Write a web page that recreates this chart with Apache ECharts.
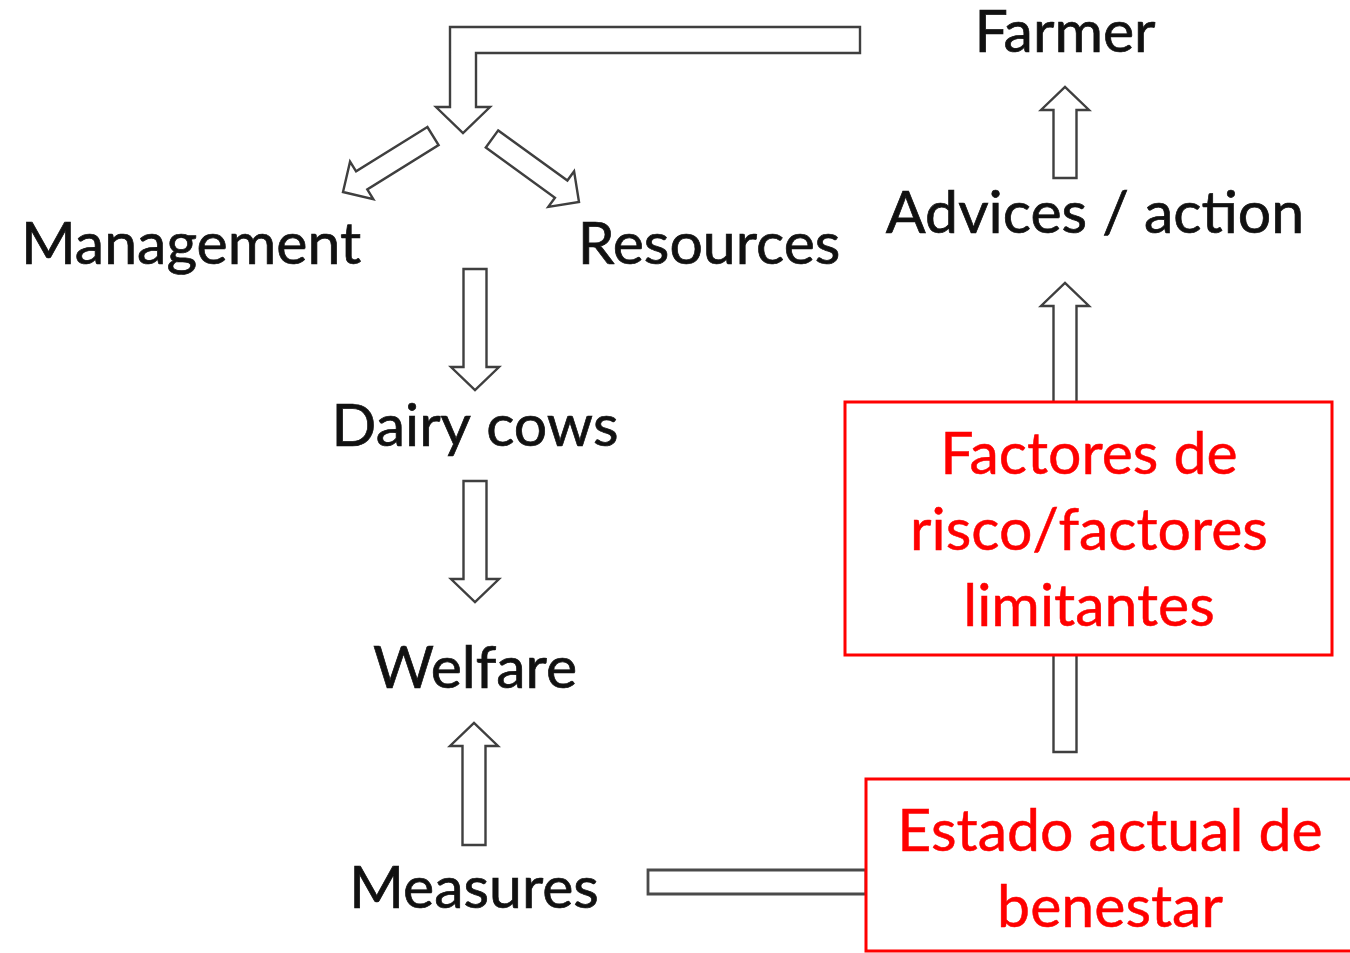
<!DOCTYPE html>
<html><head><meta charset="utf-8">
<script src="https://cdn.jsdelivr.net/npm/echarts@6/dist/echarts.min.js"></script>
<style>html,body{margin:0;padding:0;background:#fff}#c{width:1350px;height:953px}</style>
</head><body><div id="c"></div>
<script>
// ---- data ----
const nodeLabels = ['Farmer', 'Advices / action', 'Management', 'Resources', 'Dairy cows', 'Welfare', 'Measures'];
const nodeX = [1065, 1095, 191, 709, 475, 475, 474];
const nodeBaseline = [52, 233, 264, 264, 446, 688, 908];

const boxLines = [['Factores de', 'risco/factores', 'limitantes'], ['Estado actual de', 'benestar']];
const boxCenterX = [1089, 1110];
const boxFirstBaseline = [474, 851];
const boxRects = [[845, 402, 1332, 655], [866, 779, 1354, 951]];

const arrowPaths = [
  [[860, 40], [463, 40], [463, 133]],
  [[433, 136], [343, 192]],
  [[492, 139], [579, 202]],
  [[475, 269], [475, 390]],
  [[475, 481], [475, 602]],
  [[474, 845], [474, 723]],
  [[1065, 178], [1065, 87]],
  [[1065, 752], [1065, 283]]
];
const connectorPaths = [[[648, 882], [866, 882]]];

// ---- style (not data) ----
const FONT = 'Lato';
const FS = 59;
const LINE_GAP = 76;
const BASE_SHIFT = 0.17 * FS; // bottom of line box sits this far below the baseline
function shapeFor(i) { return i === 0 ? { hw: 13, hh: 27, hl: 26 } : (i < 3 ? { hw: 10.6, hh: 22, hl: 22 } : { hw: 11.5, hh: 24, hl: 23 }); }

function arrowPolygon(pts, hw, hh, hl) {
  const n = pts.length;
  const tip = pts[n - 1], prev = pts[n - 2];
  let dx = tip[0] - prev[0], dy = tip[1] - prev[1];
  let L = Math.hypot(dx, dy); dx /= L; dy /= L;
  const B = [tip[0] - dx * hl, tip[1] - dy * hl];
  const sp = pts.slice(0, n - 1).concat([B]);
  const segN = [];
  for (let i = 0; i < sp.length - 1; i++) {
    let ex = sp[i + 1][0] - sp[i][0], ey = sp[i + 1][1] - sp[i][1];
    const l = Math.hypot(ex, ey) || 1; ex /= l; ey /= l;
    segN.push([-ey, ex]);
  }
  const left = [], right = [];
  for (let i = 0; i < sp.length; i++) {
    let m;
    if (i === 0) m = segN[0];
    else if (i === sp.length - 1) m = segN[segN.length - 1];
    else {
      const a = segN[i - 1], b = segN[i];
      let mx = a[0] + b[0], my = a[1] + b[1];
      const ml = Math.hypot(mx, my); mx /= ml; my /= ml;
      const d = mx * a[0] + my * a[1];
      m = [mx / d, my / d];
    }
    left.push([sp[i][0] + m[0] * hw, sp[i][1] + m[1] * hw]);
    right.push([sp[i][0] - m[0] * hw, sp[i][1] - m[1] * hw]);
  }
  const nl = segN[segN.length - 1];
  const poly = left.slice();
  if (hl > 0) {
    poly.push([B[0] + nl[0] * hh, B[1] + nl[1] * hh]);
    poly.push(tip);
    poly.push([B[0] - nl[0] * hh, B[1] - nl[1] * hh]);
  }
  return poly.concat(right.reverse());
}

const chart = echarts.init(document.getElementById('c'), null, { renderer: 'canvas' });

const option = {
  animation: false,
  backgroundColor: '#ffffff',
  grid: { left: 0, right: 0, top: 0, bottom: 0 },
  xAxis: { type: 'value', min: 0, max: 1350, show: false },
  yAxis: { type: 'value', min: 0, max: 953, inverse: true, show: false },
  series: [
    {
      type: 'custom', z: 1,
      data: arrowPaths.map((p, i) => [i]),
      renderItem: function (params, api) {
        const i = api.value(0);
        const pts = arrowPaths[i].map(p => api.coord(p));
        const s = shapeFor(i);
        return { type: 'polygon', shape: { points: arrowPolygon(pts, s.hw, s.hh, s.hl) },
          style: { fill: '#ffffff', stroke: '#3f3f3f', lineWidth: 2.4, lineJoin: 'miter' } };
      }
    },
    {
      type: 'custom', z: 1,
      data: connectorPaths.map((p, i) => [i]),
      renderItem: function (params, api) {
        const i = api.value(0);
        const pts = connectorPaths[i].map(p => api.coord(p));
        return { type: 'polygon', shape: { points: arrowPolygon(pts, 12, 12, 0) },
          style: { fill: '#ffffff', stroke: '#4a4a4a', lineWidth: 2.8 } };
      }
    },
    {
      type: 'custom', z: 2,
      data: boxRects.map((r, i) => [i]),
      renderItem: function (params, api) {
        const r = boxRects[api.value(0)];
        const a = api.coord([r[0], r[1]]), b = api.coord([r[2], r[3]]);
        return { type: 'rect', shape: { x: a[0], y: a[1], width: b[0] - a[0], height: b[1] - a[1] },
          style: { fill: '#ffffff', stroke: '#ff0000', lineWidth: 3 } };
      }
    },
    {
      type: 'custom', z: 3,
      data: nodeLabels.map((t, i) => [nodeX[i], nodeBaseline[i]]),
      renderItem: function (params, api) {
        const p = api.coord([api.value(0), api.value(1)]);
        return { type: 'text', x: p[0], y: p[1] + BASE_SHIFT,
          style: { text: nodeLabels[params.dataIndex], fill: '#111111', stroke: '#111111', lineWidth: 0.7,
            fontFamily: FONT, fontSize: FS, align: 'center', verticalAlign: 'bottom' } };
      }
    },
    {
      type: 'custom', z: 3,
      data: boxLines.flatMap((lines, b) => lines.map((t, k) => [boxCenterX[b], boxFirstBaseline[b] + k * LINE_GAP, b, k])),
      renderItem: function (params, api) {
        const p = api.coord([api.value(0), api.value(1)]);
        const t = boxLines[api.value(2)][api.value(3)];
        return { type: 'text', x: p[0], y: p[1] + BASE_SHIFT,
          style: { text: t, fill: '#ff0000', stroke: '#ff0000', lineWidth: 0.5,
            fontFamily: FONT, fontSize: FS, align: 'center', verticalAlign: 'bottom' } };
      }
    }
  ]
};
chart.setOption(option);
</script>
</body></html>
